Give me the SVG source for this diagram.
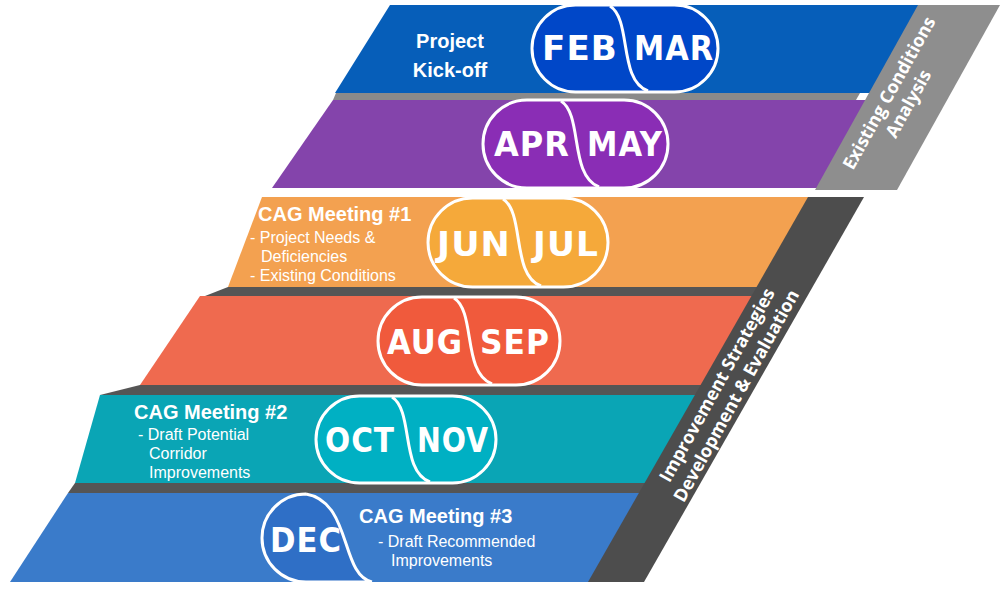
<svg xmlns="http://www.w3.org/2000/svg" width="1000" height="590" viewBox="0 0 1000 590">
<style>
.m{font-family:"DejaVu Sans Condensed","DejaVu Sans",sans-serif;font-weight:bold;font-size:34px;fill:#fff;text-anchor:middle;letter-spacing:1px}
.h{font-family:"Liberation Sans",Arial,sans-serif;font-weight:bold;font-size:20px;fill:#fff}
.s{font-family:"Liberation Sans",Arial,sans-serif;font-size:16px;fill:#fff}
.pill{stroke:#fff;stroke-width:3}
.div{fill:none;stroke:#fff;stroke-width:3}
.st{font-family:"Open Sans","Liberation Sans",sans-serif;font-weight:bold;font-size:18px;fill:#fff;text-anchor:middle}
</style>
<rect width="1000" height="590" fill="#fff"/>
<g id="shadows">
<polygon points="336,93 860,93 856,100 333,100" fill="#8a8a8a"/>
<polygon points="228,287 800,287 795,296 205,296" fill="#555"/>
<polygon points="140,385 740,385 735,395 100,395" fill="#555"/>
<polygon points="75,483 690,483 685,493 68,493" fill="#555"/>
</g>
<g id="band1"><polygon points="390,5 930,5 880,93 335,93" fill="#065eb9"/>
<text class="h" x="450" y="48" text-anchor="middle" font-size="22">Project</text>
<text class="h" x="450" y="77" text-anchor="middle" font-size="22">Kick-off</text>
<rect class="pill" x="532" y="5" width="186" height="87" rx="43.5" fill="#0047c8"/>
<path class="div" d="M610,6 C632,20 618,80 648,91"/>
<text class="m" x="580" y="60" textLength="76" lengthAdjust="spacingAndGlyphs">FEB</text><text class="m" x="674" y="60" textLength="80" lengthAdjust="spacingAndGlyphs">MAR</text></g>
<g id="band2"><polygon points="333,100 870,100 825,188 272,188" fill="#8444ab"/>
<rect class="pill" x="483" y="100" width="185" height="88" rx="44" fill="#8a2db5"/>
<path class="div" d="M561,101 C583,115 569,175 599,187"/>
<text class="m" x="532" y="156" textLength="76" lengthAdjust="spacingAndGlyphs">APR</text><text class="m" x="625" y="156" textLength="76" lengthAdjust="spacingAndGlyphs">MAY</text></g>
<g id="band3"><polygon points="262,197 815,197 770,287 228,287" fill="#f3a150"/>
<text class="h" x="258" y="221">CAG Meeting #1</text>
<text class="s" x="250" y="243">- Project Needs &amp;</text>
<text class="s" x="261" y="262">Deficiencies</text>
<text class="s" x="250" y="281">- Existing Conditions</text>
<rect class="pill" x="428" y="198" width="180" height="89" rx="44.5" fill="#f5a93a"/>
<path class="div" d="M503,199 C525,213 511,275 541,286"/>
<text class="m" x="474" y="256" textLength="74" lengthAdjust="spacingAndGlyphs">JUN</text><text class="m" x="566" y="256" textLength="66" lengthAdjust="spacingAndGlyphs">JUL</text></g>
<g id="band4"><polygon points="200,296 770,296 725,385 140,385" fill="#ef6a4f"/>
<rect class="pill" x="378" y="297" width="182" height="88" rx="44" fill="#f05a3c"/>
<path class="div" d="M454,298 C476,312 462,372 492,384"/>
<text class="m" x="425" y="354" textLength="76" lengthAdjust="spacingAndGlyphs">AUG</text><text class="m" x="515" y="354" textLength="70" lengthAdjust="spacingAndGlyphs">SEP</text></g>
<g id="band5"><polygon points="100,395 720,395 675,483 75,483" fill="#0aa5b5"/>
<text class="h" x="134" y="419">CAG Meeting #2</text>
<text class="s" x="138" y="440">- Draft Potential</text>
<text class="s" x="149" y="459">Corridor</text>
<text class="s" x="149" y="478">Improvements</text>
<rect class="pill" x="316" y="396" width="180" height="87" rx="43.5" fill="#00b0c3"/>
<path class="div" d="M392,397 C414,411 400,471 430,482"/>
<text class="m" x="360" y="452" textLength="70" lengthAdjust="spacingAndGlyphs">OCT</text><text class="m" x="453" y="452" textLength="72" lengthAdjust="spacingAndGlyphs">NOV</text></g>
<g id="band6"><polygon points="68,493 660,493 615,582 10,582" fill="#3a7bca"/>
<path d="M306,494 A44,44 0 0 0 306,582 L372,582 C340,575 352,502 306,494 Z" fill="#2f6fc6"/>
<path class="div" d="M306,494 A44,44 0 0 0 306,582 L372,582 M306,494 C352,502 340,575 372,582"/>
<text class="m" x="306" y="552" textLength="72" lengthAdjust="spacingAndGlyphs">DEC</text>
<text class="h" x="359" y="523">CAG Meeting #3</text>
<text class="s" x="378" y="547">- Draft Recommended</text>
<text class="s" x="391" y="566">Improvements</text></g>
<g id="strip1"><polygon points="918,5 1000,5 897,190 815,190" fill="#8e8e8e"/>
<text class="st" transform="translate(898,98) rotate(-61)"><tspan x="0" y="-4">Existing Conditions</tspan><tspan x="0" y="18">Analysis</tspan></text></g>
<g id="strip2"><polygon points="808,197 864,197 644,582 588,582" fill="#4d4d4d"/>
<text class="st" transform="translate(726,390) rotate(-61)"><tspan x="0" y="-4">Improvement Strategies</tspan><tspan x="0" y="18">Development &amp; Evaluation</tspan></text></g>
<g id="connectors"/>
</svg>
